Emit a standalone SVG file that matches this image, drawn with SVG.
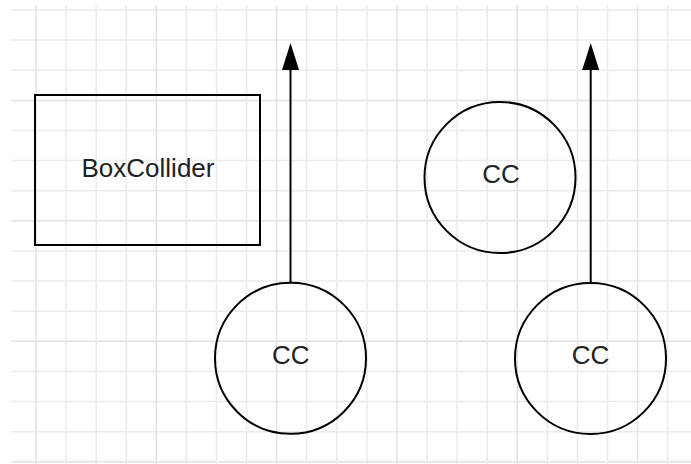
<svg xmlns="http://www.w3.org/2000/svg" width="691" height="464" viewBox="0 0 691 464">
  <defs>
    <style>
      .grid { stroke: #ebebeb; stroke-width: 1.5; fill: none; }
      .major { stroke: #e2e2e2; stroke-width: 1.5; fill: none; }
      .shape { fill: none; stroke: #000; stroke-width: 2; }
      .label { font-family: "Liberation Sans", Arial, sans-serif; font-size: 26px; fill: #222; text-anchor: middle; }
      .conn { stroke: #000; stroke-width: 2; fill: none; }
    </style>
    <marker id="arrow" viewBox="0 0 17 27" refX="8.5" refY="0" markerWidth="17" markerHeight="27" markerUnits="userSpaceOnUse" orient="auto-start-reverse">
      <path d="M8.5 0 L17 27 L0 27 Z" fill="#000"/>
    </marker>
  </defs>
  <rect width="691" height="464" fill="#fff"/>
  <g id="grid">
    <path class="grid" d="M11 10H691M11 40.1H691M11 70.2H691M11 130.5H691M11 160.6H691M11 190.7H691M11 251H691M11 281.1H691M11 311.2H691M11 371.4H691M11 401.6H691M11 431.7H691"/>
    <path class="major" d="M11 100.4H691M11 220.8H691M11 341.3H691M11 461.8H691"/>
    <path class="grid" d="M66.1 5V464M96.2 5V464M126.2 5V464M186.4 5V464M216.5 5V464M246.6 5V464M306.7 5V464M336.8 5V464M366.9 5V464M427 5V464M457.1 5V464M487.2 5V464M547.4 5V464M577.4 5V464M607.5 5V464M667.7 5V464"/>
    <path class="major" d="M36 5V464M156.3 5V464M276.6 5V464M397 5V464M517.3 5V464M637.6 5V464"/>
  </g>
  <g id="connectors">
    <path class="conn" d="M290.5 282.7V69" />
    <path d="M290.5 43 L299 70 L282 70 Z" fill="#000"/>
    <path class="conn" d="M590.7 282.7V69" />
    <path d="M590.7 43 L599.2 70 L582.2 70 Z" fill="#000"/>
  </g>
  <g id="box-collider">
    <rect class="shape" x="35" y="95" width="225" height="150" fill="#fff"/>
    <text class="label" x="148" y="177">BoxCollider</text>
  </g>
  <g id="cc-top-right">
    <circle class="shape" cx="500" cy="177.5" r="75.5"/>
    <text class="label" x="501" y="182.5">CC</text>
  </g>
  <g id="cc-bottom-left">
    <circle class="shape" cx="290.5" cy="358.3" r="75.5"/>
    <text class="label" x="290.7" y="364">CC</text>
  </g>
  <g id="cc-bottom-right">
    <circle class="shape" cx="590.5" cy="358.5" r="75.5"/>
    <text class="label" x="590.5" y="364">CC</text>
  </g>
</svg>
